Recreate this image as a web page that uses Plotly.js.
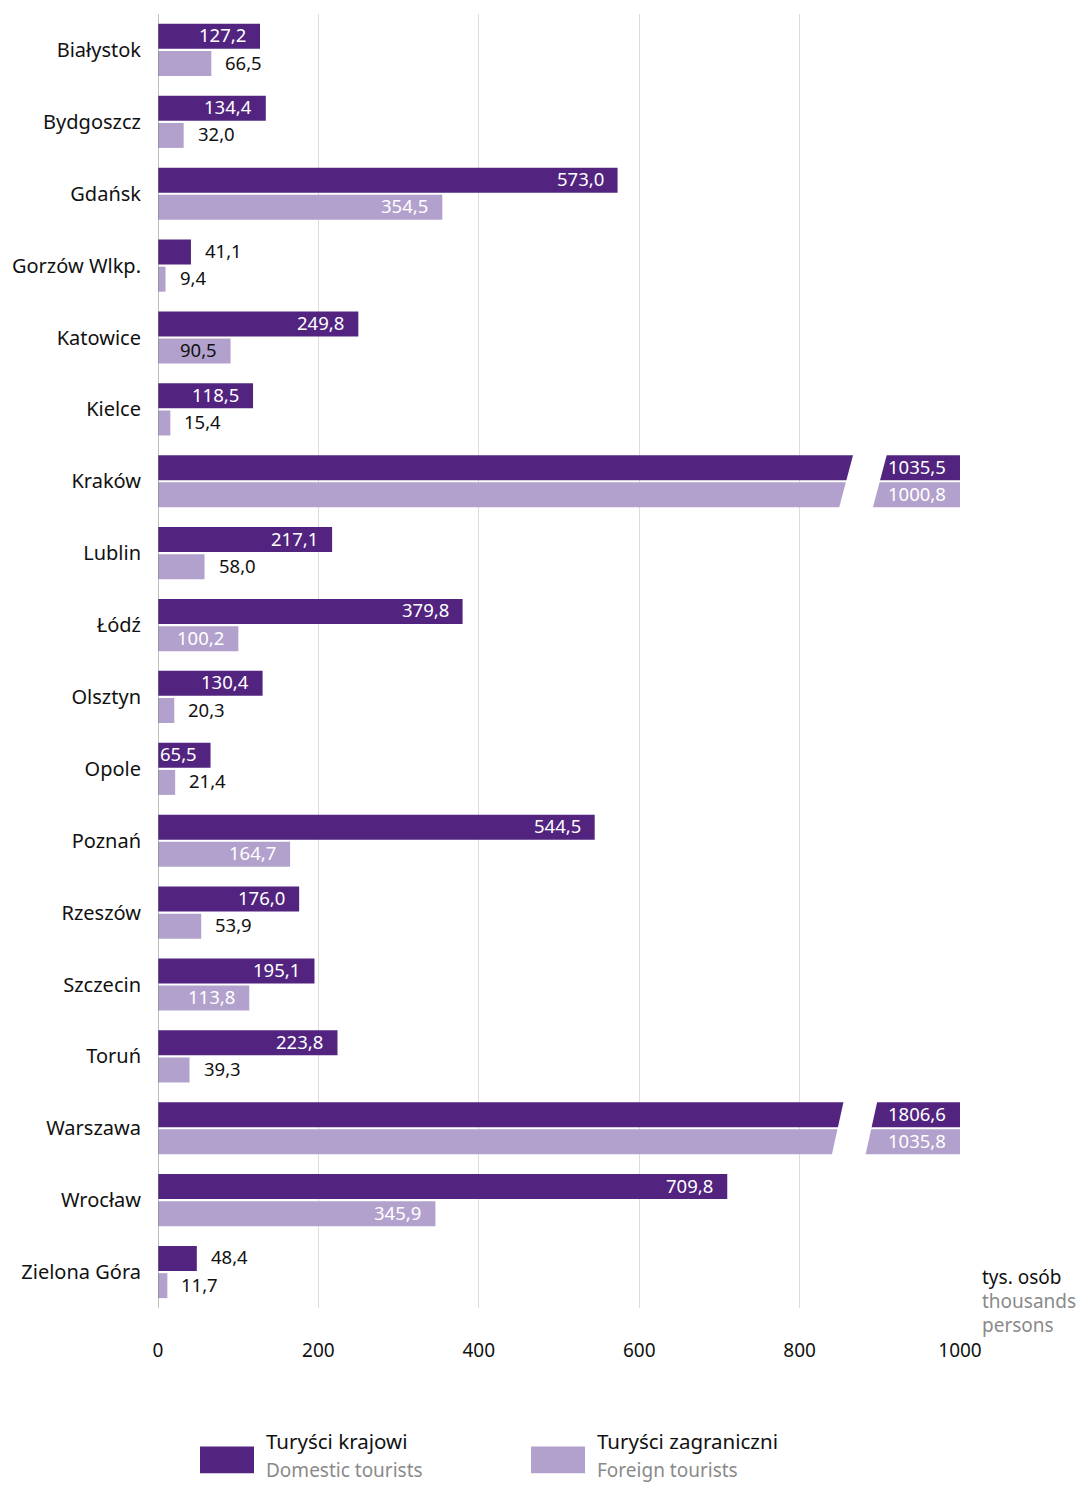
<!DOCTYPE html>
<html>
<head>
<meta charset="utf-8">
<script src="https://cdn.plot.ly/plotly-3.0.1.min.js"></script>
<style>html,body{margin:0;padding:0;background:#fff;}#chart{width:1080px;height:1489px;}</style>
</head>
<body>
<div id="chart"></div>
<script>
// ---- data ----
const categories = ["Białystok","Bydgoszcz","Gdańsk","Gorzów Wlkp.","Katowice","Kielce","Kraków","Lublin","Łódź","Olsztyn","Opole","Poznań","Rzeszów","Szczecin","Toruń","Warszawa","Wrocław","Zielona Góra"];
const domestic = [127.2,134.4,573.0,41.1,249.8,118.5,1035.5,217.1,379.8,130.4,65.5,544.5,176.0,195.1,223.8,1806.6,709.8,48.4];
const foreign  = [66.5,32.0,354.5,9.4,90.5,15.4,1000.8,58.0,100.2,20.3,21.4,164.7,53.9,113.8,39.3,1035.8,345.9,11.7];
const xTickVals = [0,200,400,600,800,1000];
const seriesNames = ["Turyści krajowi","Turyści zagraniczni"];
const seriesNamesEn = ["Domestic tourists","Foreign tourists"];
const unitLabels = ["tys. osób","thousands","persons"];

// ---- style ----
const C_DOM = "#52247f", C_FOR = "#b3a1cd", C_GRAY = "#8a8a8a";
const FONT = "Noto Sans, Open Sans, sans-serif";
const X_MAX = 1000;
// label placement style: 'in' (white inside), 'inDark' (black inside), 'out' (black outside)
const domPlace = categories.map((c,i)=> (i===3||i===17) ? "out" : "in");
const forPlace = ["out","out","in","out","inDark","out","in","out","in","out","out","in","out","in","out","in","in","out"];
// axis-break styling for bars exceeding the axis (left edge at top / bottom of group, gap width)
const breakStyle = {"Kraków":[867,849], "Warszawa":[855,840]};
const BREAK_W = 42;

const W = 1080, H = 1489;
const M = {l:158, r:120, t:13.5, b:180.5};
const PW = W - M.l - M.r, PH = H - M.t - M.b;
const px2x = p => (p - M.l) / PW;
const py2y = p => (M.t + PH - p) / PH;

const yIdx = categories.map((c,i)=>i);
const BARGAP = 0.244, GROUPGAP = 0.08;
const off = (1 - BARGAP) / 4;

const fmt = v => v.toFixed(1).replace(".", ",");

const traces = [
  {type:"bar", orientation:"h", name:seriesNames[0], x:domestic, y:yIdx, marker:{color:C_DOM}, hoverinfo:"skip", showlegend:false},
  {type:"bar", orientation:"h", name:seriesNames[1], x:foreign, y:yIdx, marker:{color:C_FOR}, hoverinfo:"skip", showlegend:false}
];

const annotations = [];
function addLabels(vals, place, sign) {
  vals.forEach((v,i)=>{
    const p = place[i];
    const inside = p !== "out";
    annotations.push({
      x: inside ? Math.min(v, X_MAX) : v, y: i + sign*off, xref:"x", yref:"y",
      text: fmt(v), showarrow:false,
      xanchor: inside ? "right" : "left", yanchor:"middle",
      xshift: inside ? -12 : 12, yshift: 1.5,
      font:{family:FONT, size:18.5, color: p === "in" ? "#ffffff" : "#111111"}
    });
  });
}
addLabels(domestic, domPlace, -1);
addLabels(foreign, forPlace, 1);

// unit label
unitLabels.forEach((t,k)=>{
  annotations.push({x:px2x(980), y:py2y(1277 + k*24.5), xref:"paper", yref:"paper", text:t, showarrow:false,
    xanchor:"left", yanchor:"middle", font:{family:FONT, size:19, color: k===0 ? "#111111" : C_GRAY}});
});

// legend (manual)
const shapes = [];
const legX = [200, 531], legC = [C_DOM, C_FOR];
legX.forEach((lx,k)=>{
  shapes.push({type:"rect", xref:"paper", yref:"paper", x0:px2x(lx), x1:px2x(lx+54), y0:py2y(1474), y1:py2y(1447),
    fillcolor:legC[k], line:{width:0}});
  annotations.push({x:px2x(lx+64), y:py2y(1442), xref:"paper", yref:"paper", text:seriesNames[k], showarrow:false,
    xanchor:"left", yanchor:"middle", font:{family:FONT, size:20.5, color:"#111111"}});
  annotations.push({x:px2x(lx+64), y:py2y(1471), xref:"paper", yref:"paper", text:seriesNamesEn[k], showarrow:false,
    xanchor:"left", yanchor:"middle", font:{family:FONT, size:19, color:C_GRAY}});
});

// axis breaks
categories.forEach((c,i)=>{
  const b = breakStyle[c];
  if (!b) return;
  const yT = i - 2*off, yB = i + 2*off;
  shapes.push({type:"path", xref:"x", yref:"y", layer:"above",
    path:`M ${b[0]},${yT} L ${b[0]+BREAK_W},${yT} L ${b[1]+BREAK_W},${yB} L ${b[1]},${yB} Z`,
    fillcolor:"#ffffff", line:{width:0}});
});

const layout = {
  width:W, height:H,
  margin:{l:M.l, r:M.r, t:M.t, b:M.b, pad:0},
  paper_bgcolor:"#ffffff", plot_bgcolor:"#ffffff",
  barmode:"group", bargap:BARGAP, bargroupgap:GROUPGAP,
  font:{family:FONT, size:19, color:"#111111"},
  xaxis:{range:[0, X_MAX], tickvals:xTickVals, ticktext:xTickVals.map(String),
    showgrid:true, gridcolor:"#dcdcdc", gridwidth:1, zeroline:false, showline:false,
    ticks:"", ticklabelstandoff:29, tickfont:{family:FONT, size:19, color:"#111111"}, fixedrange:true},
  yaxis:{range:[categories.length - 0.5, -0.5], tickvals:yIdx, ticktext:categories,
    showgrid:false, zeroline:false, showline:false, ticks:"", ticklabelstandoff:16,
    tickfont:{family:FONT, size:20, color:"#111111"}, fixedrange:true},
  shapes: shapes.concat([{type:"line", xref:"x", yref:"paper", x0:0, x1:0, y0:0, y1:1, line:{color:"#808080", width:1}, layer:"above"}]),
  annotations: annotations,
  showlegend:false
};

Plotly.newPlot("chart", traces, layout, {displayModeBar:false, staticPlot:true});
</script>
</body>
</html>
